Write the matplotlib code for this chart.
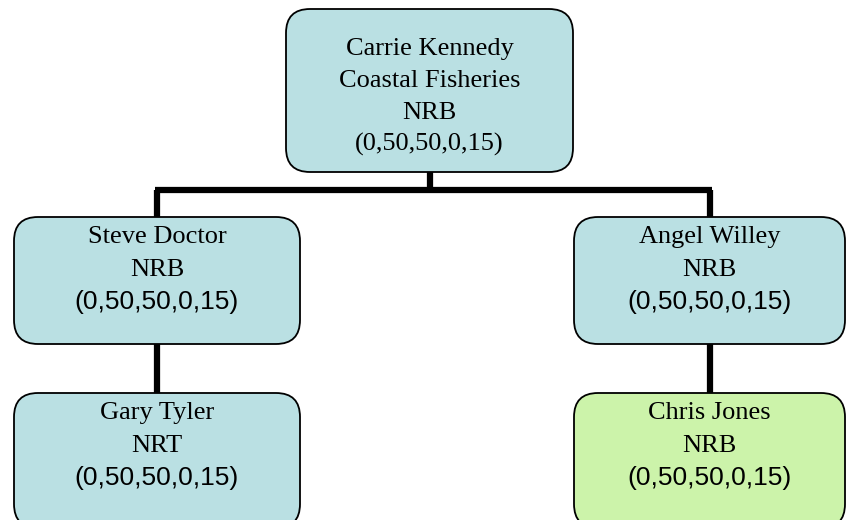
import matplotlib
matplotlib.use("Agg")
import matplotlib.pyplot as plt
from matplotlib.patches import FancyBboxPatch

# org chart content
names = ["Carrie Kennedy", "Steve Doctor", "Angel Willey", "Gary Tyler", "Chris Jones"]
units = ["Coastal Fisheries", None, None, None, None]
codes = ["NRB", "NRB", "NRB", "NRT", "NRB"]
values = ["(0,50,50,0,15)"] * 5
parents = [None, 0, 0, 1, 2]

blue = "#bae0e3"
green = "#ccf3aa"
fills = [blue, blue, blue, blue, green]

# box layout in pixels (x0, y0, x1, y1), y downward
boxes = [(286, 9, 573, 172),
         (14, 217, 300, 344),
         (574, 217, 845, 344),
         (14, 393, 300, 528),
         (574, 393, 845, 528)]

fig = plt.figure(figsize=(8.46, 5.2), dpi=100)
ax = fig.add_axes([0, 0, 1, 1])
ax.set_xlim(0, 846)
ax.set_ylim(520, 0)
ax.axis("off")

serif = "Liberation Serif"
sans = "Liberation Sans"
fs = 19

# connectors
lw_conn = 4.5
top = boxes[0]
cx_top = (top[0] + top[2]) / 2
bar_y = 190
kids = [i for i, p in enumerate(parents) if p == 0]
kid_x = [(boxes[i][0] + boxes[i][2]) / 2 for i in kids]
ax.plot([cx_top, cx_top], [top[3], bar_y], color="k", lw=lw_conn,
        solid_capstyle="butt", zorder=1)
ax.plot([min(kid_x) - 2, max(kid_x) + 2], [bar_y, bar_y], color="k",
        lw=lw_conn, solid_capstyle="butt", zorder=1)
for i, p in enumerate(parents):
    if p is None:
        continue
    b = boxes[i]
    pb = boxes[p]
    cx = (b[0] + b[2]) / 2
    y_start = bar_y if p == 0 else pb[3]
    ax.plot([cx, cx], [y_start, b[1]], color="k", lw=lw_conn,
            solid_capstyle="butt", zorder=1)

# boxes and text
for i, b in enumerate(boxes):
    x0, y0, x1, y1 = b
    patch = FancyBboxPatch((x0, y0), x1 - x0, y1 - y0,
                           boxstyle="round,pad=0,rounding_size=24",
                           fc=fills[i], ec="k", lw=1.3, zorder=2)
    ax.add_patch(patch)
    cx = (x0 + x1) / 2
    if units[i] is not None:
        lines = [(names[i], serif), (units[i], serif), (codes[i], serif),
                 (values[i], serif)]
        y = y0 + 46
        step = 32
    else:
        lines = [(names[i], serif), (codes[i], serif), (values[i], sans)]
        y = y0 + 26
        step = 33
    for txt, fam in lines:
        ax.text(cx, y, txt, ha="center", va="baseline", fontsize=fs,
                family=fam, zorder=3)
        y += step

fig.savefig("out.png", dpi=100)
